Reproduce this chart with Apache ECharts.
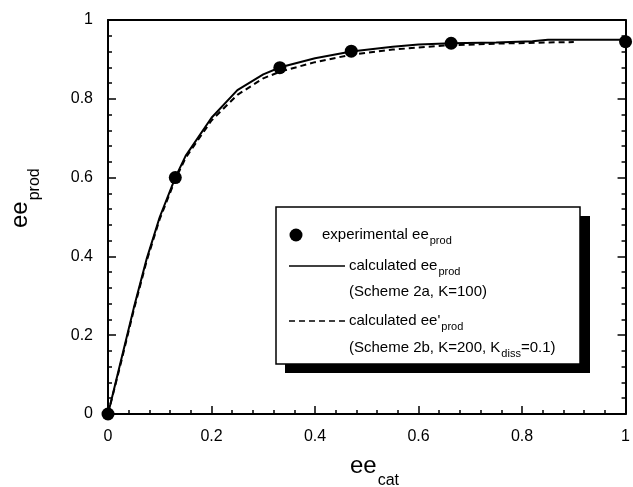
<!DOCTYPE html>
<html>
<head>
<meta charset="utf-8">
<script src="https://cdn.jsdelivr.net/npm/echarts@6/dist/echarts.min.js"></script>
<style>
html,body{margin:0;padding:0;background:#fff;}
#main{width:633px;height:487px;}
</style>
</head>
<body>
<div id="main"></div>
<script>
// Experimental points
var expX = [0, 0.13, 0.332, 0.47, 0.663, 1];
var expY = [0, 0.60, 0.879, 0.921, 0.941, 0.945];
// Calculated (Scheme 2a, K=100) - solid
var solidX = [0, 0.025, 0.05, 0.075, 0.1, 0.13, 0.15, 0.2, 0.25, 0.3, 0.333, 0.4, 0.47, 0.55, 0.6, 0.663, 0.75, 0.82, 0.85, 1];
var solidY = [0, 0.135, 0.27, 0.395, 0.5, 0.6, 0.655, 0.752, 0.822, 0.862, 0.88, 0.903, 0.92, 0.932, 0.938, 0.941, 0.943, 0.946, 0.95, 0.95];
// Calculated (Scheme 2b, K=200, Kdiss=0.1) - dashed
var dashX = [0, 0.025, 0.05, 0.075, 0.1, 0.13, 0.15, 0.2, 0.25, 0.3, 0.333, 0.4, 0.47, 0.55, 0.65, 0.75, 0.85, 0.9];
var dashY = [0, 0.13, 0.265, 0.39, 0.495, 0.595, 0.65, 0.745, 0.81, 0.852, 0.869, 0.893, 0.912, 0.925, 0.935, 0.94, 0.943, 0.944];
var tickMin = 0, tickMax = 1, tickStep = 0.2;

function zip(a, b) { return a.map(function (v, i) { return [v, b[i]]; }); }

var FONT = "'Liberation Sans', Arial, Helvetica, sans-serif";
var chart = echarts.init(document.getElementById('main'), null, {renderer: 'canvas'});

function mainAxis(pos, showLabel) {
  return {
    type: 'value', position: pos, min: tickMin, max: tickMax, interval: tickStep,
    axisLine: {show: true, onZero: false, lineStyle: {color: '#000', width: 2}},
    axisTick: {show: true, inside: true, length: 8, lineStyle: {color: '#000', width: 1.5}},
    minorTick: {show: true, splitNumber: 5, length: 4, lineStyle: {color: '#000', width: 1.5}},
    splitLine: {show: false},
    minorSplitLine: {show: false},
    axisLabel: {show: showLabel, color: '#000', fontSize: 16, fontFamily: FONT, margin: 15}
  };
}
var topAxis = {
  type: 'value', position: 'top', min: tickMin, max: tickMax,
  axisLine: {show: true, onZero: false, lineStyle: {color: '#000', width: 2}},
  axisTick: {show: false}, axisLabel: {show: false}, splitLine: {show: false}
};
var rightAxis = mainAxis('right', false);

var titleRich = {
  e: {fontSize: 24, fontFamily: FONT, color: '#000'},
  s: {fontSize: 16, fontFamily: FONT, color: '#000', padding: [30, 0, 0, 1]}
};
var legRich = {
  t: {fontSize: 15, fontFamily: FONT, color: '#000'},
  s: {fontSize: 11, fontFamily: FONT, color: '#000', padding: [12, 0, 0, 1]}
};

var option = {
  backgroundColor: '#fff',
  animation: false,
  grid: {left: 108, right: 6, top: 20, bottom: 73, containLabel: false},
  xAxis: [mainAxis('bottom', true), topAxis],
  yAxis: [mainAxis('left', true), rightAxis],
  series: [
    {
      type: 'line', data: zip(solidX, solidY), showSymbol: false, symbol: 'none',
      lineStyle: {color: '#000', width: 2}, smooth: false, z: 2
    },
    {
      type: 'line', data: zip(dashX, dashY), showSymbol: false, symbol: 'none',
      lineStyle: {color: '#000', width: 2, type: [6, 4]}, smooth: false, z: 2
    },
    {
      type: 'scatter', data: zip(expX, expY), symbol: 'circle', symbolSize: 13,
      itemStyle: {color: '#000', opacity: 1}, z: 3, clip: false
    }
  ],
  graphic: [
    // axis titles
    {
      type: 'text', x: 350, y: 443, z: 10,
      style: {text: '{e|ee}{s|cat}', fill: '#000', rich: titleRich}
    },
    {
      type: 'text', x: -3, y: 228, rotation: Math.PI / 2, z: 10,
      style: {text: '{e|ee}{s|prod}', fill: '#000', rich: titleRich}
    },
    // legend box shadow and box
    {type: 'rect', shape: {x: 285, y: 216, width: 305, height: 157}, style: {fill: '#000'}, z: 20},
    {type: 'rect', shape: {x: 276, y: 207, width: 304, height: 157}, style: {fill: '#fff', stroke: '#000', lineWidth: 1.5}, z: 21},
    {type: 'circle', shape: {cx: 296, cy: 235, r: 6.5}, style: {fill: '#000'}, z: 22},
    {
      type: 'text', x: 322, y: 235, z: 22,
      style: {text: '{t|experimental ee}{s|prod}', fill: '#000', verticalAlign: 'middle', rich: legRich}
    },
    {type: 'line', shape: {x1: 289, y1: 266, x2: 345, y2: 266}, style: {stroke: '#000', lineWidth: 1.5}, z: 22},
    {
      type: 'text', x: 349, y: 266, z: 22,
      style: {text: '{t|calculated ee}{s|prod}', fill: '#000', verticalAlign: 'middle', rich: legRich}
    },
    {
      type: 'text', x: 349, y: 292, z: 22,
      style: {text: '(Scheme 2a, K=100)', fill: '#000', verticalAlign: 'middle', fontSize: 15, fontFamily: FONT}
    },
    {type: 'line', shape: {x1: 289, y1: 321, x2: 345, y2: 321}, style: {stroke: '#000', lineWidth: 1.5, lineDash: [6, 4]}, z: 22},
    {
      type: 'text', x: 349, y: 321, z: 22,
      style: {text: "{t|calculated ee'}{s|prod}", fill: '#000', verticalAlign: 'middle', rich: legRich}
    },
    {
      type: 'text', x: 349, y: 348, z: 22,
      style: {text: '{t|(Scheme 2b, K=200, K}{s|diss}{t|=0.1)}', fill: '#000', verticalAlign: 'middle', rich: legRich}
    }
  ]
};
chart.setOption(option);
</script>
</body>
</html>
